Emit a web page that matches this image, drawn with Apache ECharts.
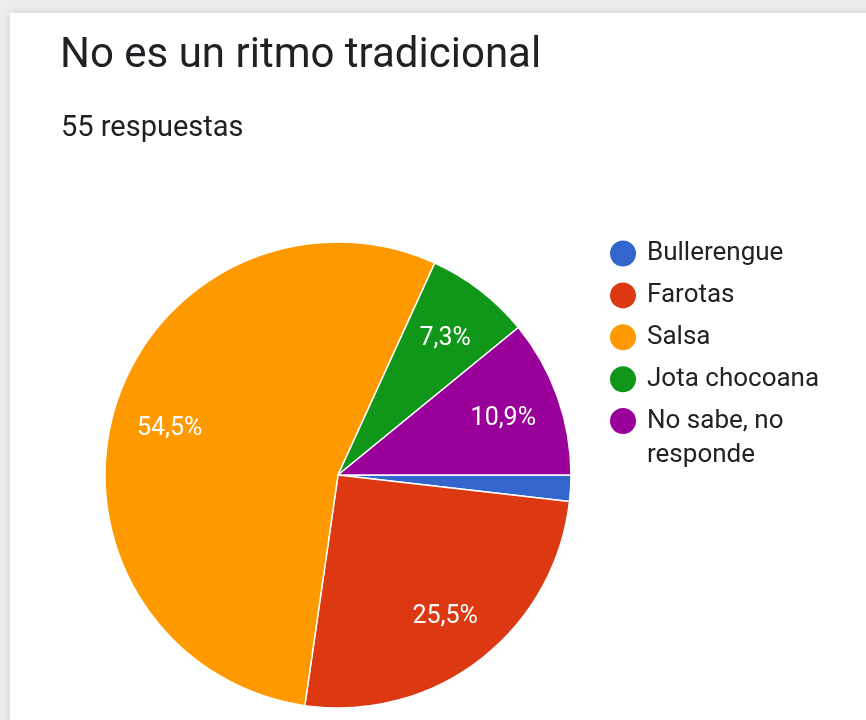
<!DOCTYPE html>
<html>
<head>
<meta charset="utf-8">
<script src="https://cdn.jsdelivr.net/npm/echarts@6/dist/echarts.min.js"></script>
<style>
  html, body { margin: 0; padding: 0; background: #ededed; }
  #chart { width: 866px; height: 720px; }
</style>
</head>
<body>
<div id="chart"></div>
<script>
const chartTitle = 'No es un ritmo tradicional';
const responseText = '55 respuestas';
const categories = ['Bullerengue', 'Farotas', 'Salsa', 'Jota chocoana', 'No sabe, no responde'];
const counts = [1, 14, 30, 4, 6];
const colors = ['#3366cc', '#dc3912', '#ff9900', '#109618', '#990099'];

const total = counts.reduce((a, b) => a + b, 0);
const pieData = categories.map((name, i) => ({ name: name, value: counts[i], itemStyle: { color: colors[i] } }));

function pct(v) {
  return (v / total * 100).toFixed(1).replace('.', ',') + '%';
}

const font = 'Roboto, "Noto Sans", sans-serif';
const chart = echarts.init(document.getElementById('chart'), null, { renderer: 'canvas' });

const legendCommon = {
  orient: 'vertical',
  left: 608,
  padding: 0,
  itemWidth: 38,
  itemHeight: 28,
  itemGap: 11.9,
  icon: 'circle',
  selectedMode: false,
  textStyle: { fontFamily: font, fontSize: 26, color: '#222222', lineHeight: 28 }
};

chart.setOption({
  backgroundColor: '#ededed',
  animation: false,
  graphic: [{
    type: 'rect',
    z: -10,
    shape: { x: 10, y: 13, width: 900, height: 800 },
    style: { fill: '#ffffff', shadowBlur: 8, shadowColor: 'rgba(0,0,0,0.12)' }
  }],
  title: [
    { text: chartTitle, left: 60, top: 35, padding: 0,
      textStyle: { fontFamily: font, fontSize: 42, fontWeight: 'normal', color: '#202124' } },
    { text: responseText, left: 61, top: 114, padding: 0,
      textStyle: { fontFamily: font, fontSize: 29, fontWeight: 'normal', color: '#202124' } }
  ],
  legend: [
    Object.assign({}, legendCommon, { top: 238.5, data: categories.slice(0, 4) }),
    Object.assign({}, legendCommon, {
      top: 369,
      data: categories.slice(4),
      formatter: function (name) { return '\n' + name.replace('no responde', 'no\nresponde'); },
      textStyle: { fontFamily: font, fontSize: 26, color: '#222222', lineHeight: 34.7 }
    })
  ],
  series: [
    {
      type: 'pie',
      center: [338, 475],
      radius: [0, 233],
      startAngle: 0,
      clockwise: true,
      silent: true,
      label: { show: false },
      labelLine: { show: false },
      itemStyle: { borderColor: '#ffffff', borderWidth: 1.5 },
      data: pieData
    },
    {
      type: 'pie',
      center: [338, 475],
      radius: [112, 233],
      startAngle: 0,
      clockwise: true,
      silent: true,
      minShowLabelAngle: 10,
      itemStyle: { color: 'rgba(0,0,0,0)', borderWidth: 0 },
      label: {
        show: true,
        position: 'inside',
        offset: [0, 3],
        fontFamily: font,
        fontSize: 25,
        color: '#ffffff',
        formatter: function (p) { return pct(p.value); }
      },
      labelLine: { show: false },
      data: categories.map((name, i) => ({ name: name, value: counts[i], itemStyle: { color: 'rgba(0,0,0,0)' } }))
    }
  ]
});
</script>
</body>
</html>
